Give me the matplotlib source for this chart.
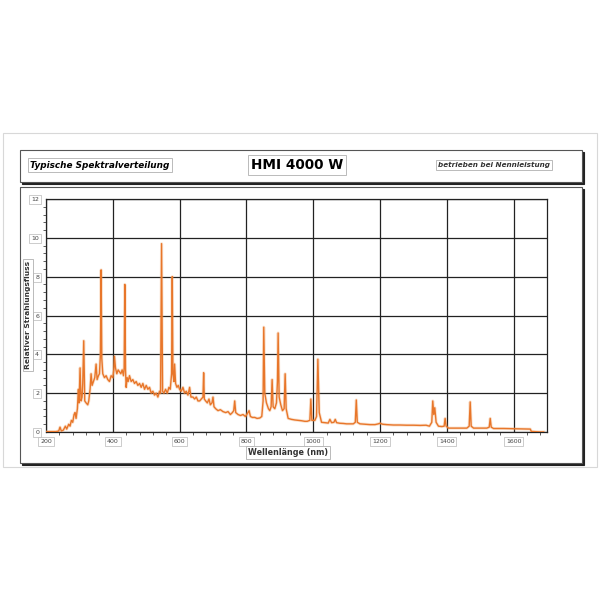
import matplotlib.pyplot as plt
from matplotlib.patches import Rectangle
from matplotlib.ticker import MultipleLocator

# -------------------------
# Data
# -------------------------
wavelength = [
    200, 230, 238, 242, 246, 252, 258, 262, 268, 272, 276, 280, 284, 287, 290,
    294, 297, 299, 302, 305, 308, 310, 313, 316, 320, 325, 328, 332, 335, 338,
    342, 346, 350, 353, 357, 360, 363, 365, 367, 370, 375, 380, 385, 390, 395,
    400, 403, 405, 408, 412, 416, 420, 424, 428, 432, 434, 436, 438, 440, 443,
    446, 450, 455, 460, 465, 470, 475, 480, 485, 490, 495, 500, 505, 510, 515,
    520, 525, 530, 535, 540, 543, 546, 549, 553, 558, 563, 568, 572, 576, 578,
    580, 583, 585, 588, 592, 596, 600, 605, 610, 615, 620, 625, 630, 634, 640,
    645, 650, 655, 660, 665, 670, 672, 674, 678, 683, 688, 692, 697, 700, 703,
    708, 715, 722, 730, 738, 745, 752, 758, 762, 765, 768, 775, 782, 790, 797,
    803, 808, 812, 818, 825, 832, 840, 846, 850, 852, 855, 860, 866, 870, 874,
    877, 880, 885, 890, 893, 895, 898, 903, 908, 913, 916, 919, 925, 935, 945,
    955, 965, 975, 982, 990, 993, 996, 1005, 1010, 1014, 1018, 1025, 1035, 1045,
    1050, 1055, 1062, 1066, 1070, 1080, 1090, 1100, 1110, 1120, 1126, 1129, 1132,
    1140, 1155, 1170, 1185, 1195, 1200, 1208, 1220, 1240, 1260, 1280, 1300, 1320,
    1338, 1348, 1355, 1358, 1361, 1364, 1368, 1375, 1385, 1392, 1395, 1398, 1405,
    1420, 1440, 1460, 1467, 1470, 1473, 1480, 1500, 1520, 1527, 1530, 1533, 1540,
    1570, 1600, 1630, 1650, 1653, 1680, 1690,
]
flux = [
    0.02, 0.02, 0.05, 0.25, 0.05, 0.10, 0.30, 0.15, 0.40, 0.30, 0.60, 0.50, 0.90, 1.00, 0.70,
    1.20, 2.20, 1.50, 3.30, 1.60, 1.80, 2.50, 4.70, 1.60, 1.50, 1.40, 1.60, 2.20, 3.00, 2.40,
    2.60, 2.80, 3.50, 2.70, 2.90, 3.00, 4.00, 8.35, 3.80, 3.00, 2.80, 2.90, 2.70, 2.60, 2.90,
    2.80, 3.20, 3.90, 3.30, 3.00, 3.20, 3.10, 3.00, 3.20, 2.90, 3.30, 7.60, 3.20, 2.30, 2.80,
    2.60, 2.90, 2.60, 2.70, 2.50, 2.60, 2.40, 2.50, 2.30, 2.50, 2.20, 2.40, 2.20, 2.30, 2.00,
    2.10, 1.90, 2.00, 1.80, 2.10, 2.00, 9.70, 2.10, 2.00, 2.20, 2.00, 2.30, 2.20, 3.00, 8.00,
    3.00, 2.60, 3.50, 2.50, 2.30, 2.40, 2.20, 2.10, 2.30, 2.00, 2.10, 1.90, 2.30, 1.80, 1.80,
    1.70, 1.80, 1.60, 1.60, 1.70, 1.80, 3.05, 1.70, 1.60, 1.50, 1.70, 1.40, 1.50, 1.80, 1.30,
    1.20, 1.10, 1.15, 1.05, 1.00, 1.05, 0.90, 1.00, 1.10, 1.60, 1.00, 0.90, 0.85, 0.90, 0.80,
    0.95, 1.10, 0.80, 0.75, 0.75, 0.70, 0.72, 0.80, 1.60, 5.40, 2.00, 1.50, 1.20, 1.10, 1.30,
    2.70, 1.30, 1.20, 1.50, 2.60, 5.10, 1.80, 1.40, 1.10, 1.20, 3.00, 1.20, 0.70, 0.65, 0.62,
    0.60, 0.58, 0.55, 0.55, 0.60, 1.70, 0.60, 0.60, 0.80, 3.75, 1.00, 0.50, 0.48, 0.46,
    0.65, 0.48, 0.50, 0.65, 0.48, 0.45, 0.44, 0.42, 0.42, 0.42, 0.50, 1.65, 0.50,
    0.42, 0.40, 0.38, 0.38, 0.42, 0.45, 0.40, 0.38, 0.36, 0.36, 0.35, 0.35, 0.34,
    0.35, 0.30, 0.50, 1.60, 0.90, 1.25, 0.50, 0.30, 0.28, 0.30, 0.70, 0.30, 0.20,
    0.20, 0.20, 0.20, 0.30, 1.55, 0.30, 0.20, 0.20, 0.20, 0.25, 0.70, 0.25, 0.18,
    0.18, 0.17, 0.16, 0.15, 0.03, 0.00, 0.00,
]

x_ticks = [200, 400, 600, 800, 1000, 1200, 1400, 1600]
y_ticks = [0, 2, 4, 6, 8, 10, 12]

# -------------------------
# Figure / panels
# -------------------------
fig = plt.figure(figsize=(6, 6), dpi=100)
W = H = 600.0


def px_rect(x0, y0, x1, y1, **kw):
    # rectangle given in image pixels (y from top), drawn behind the axes
    return Rectangle((x0 / W, 1 - y1 / H), (x1 - x0) / W, (y1 - y0) / H,
                     transform=fig.transFigure, figure=fig, zorder=-5, **kw)


# outer light frame
fig.patches.append(px_rect(3, 133, 597, 467, fill=False, edgecolor="#d8d8d8", lw=0.8))
# title box and chart panel, with a dark shadow on the right/bottom
for (x0, y0, x1, y1) in [(20, 150, 582, 182), (20, 187, 582, 463)]:
    fig.patches.append(px_rect(x0 + 1.5, y0 + 1.5, x1 + 1.5, y1 + 1.5,
                               facecolor="#222222", edgecolor="#222222", lw=0.8))
    fig.patches.append(px_rect(x0, y0, x1, y1, facecolor="white",
                               edgecolor="#555555", lw=0.8))

box = dict(boxstyle="square,pad=0.25", facecolor="white", edgecolor="#b0b0b0", lw=0.6)
fig.text(100 / W, 1 - 165 / H, "Typische Spektralverteilung", fontsize=6.4,
         fontweight="bold", style="italic", ha="center", va="center", bbox=box)
fig.text(297 / W, 1 - 165 / H, "HMI 4000 W", fontsize=9.8, fontweight="bold",
         ha="center", va="center",
         bbox=dict(boxstyle="square,pad=0.22", facecolor="white", edgecolor="#b0b0b0", lw=0.6))
fig.text(494 / W, 1 - 165 / H, "betrieben bei Nennleistung", fontsize=5.2,
         fontweight="bold", style="italic", ha="center", va="center", color="#333333",
         bbox=box)

# -------------------------
# Plot
# -------------------------
ax = fig.add_axes([46 / W, 1 - 432 / H, (547 - 46) / W, (432 - 199) / H])
ax.patch.set_alpha(0)
ax.plot(wavelength, flux, color="#f0a060", lw=2.2, alpha=0.3, zorder=3)
ax.plot(wavelength, flux, color="#e8762a", lw=1.0, zorder=4)

ax.set_xlim(200, 1700)
ax.set_ylim(0, 12)
ax.set_xticks(x_ticks)
ax.set_yticks(y_ticks)
ax.xaxis.set_minor_locator(MultipleLocator(40))
ax.yaxis.set_minor_locator(MultipleLocator(0.4))
ax.grid(True, color="#222222", lw=0.9)
ax.set_axisbelow(True)
for s in ax.spines.values():
    s.set_color("#222222")
    s.set_linewidth(0.9)
ax.tick_params(which="major", length=0, labelsize=4.5, labelcolor="#444444", pad=5)
ax.tick_params(which="minor", length=2.5, width=0.6, color="#444444")

tick_box = dict(boxstyle="square,pad=0.3", facecolor="white", edgecolor="#b8b8b8", lw=0.5)
for lbl in ax.get_xticklabels() + ax.get_yticklabels():
    lbl.set_bbox(tick_box)

ax.set_xlabel("Wellenlänge (nm)", fontsize=5.8, fontweight="bold", color="#333333",
              bbox=dict(boxstyle="square,pad=0.3", facecolor="white", edgecolor="#b0b0b0", lw=0.6))
ax.xaxis.set_label_coords((288 - 46) / (547 - 46), -(448 - 432) / (432 - 199))
ax.set_ylabel("Relativer Strahlungsfluss", fontsize=5.4, fontweight="bold", color="#333333",
              bbox=dict(boxstyle="square,pad=0.3", facecolor="white", edgecolor="#b0b0b0", lw=0.6))
ax.yaxis.set_label_coords(-(46 - 31) / (547 - 46), (432 - 315) / (432 - 199))

plt.savefig("out.png", dpi=100)
